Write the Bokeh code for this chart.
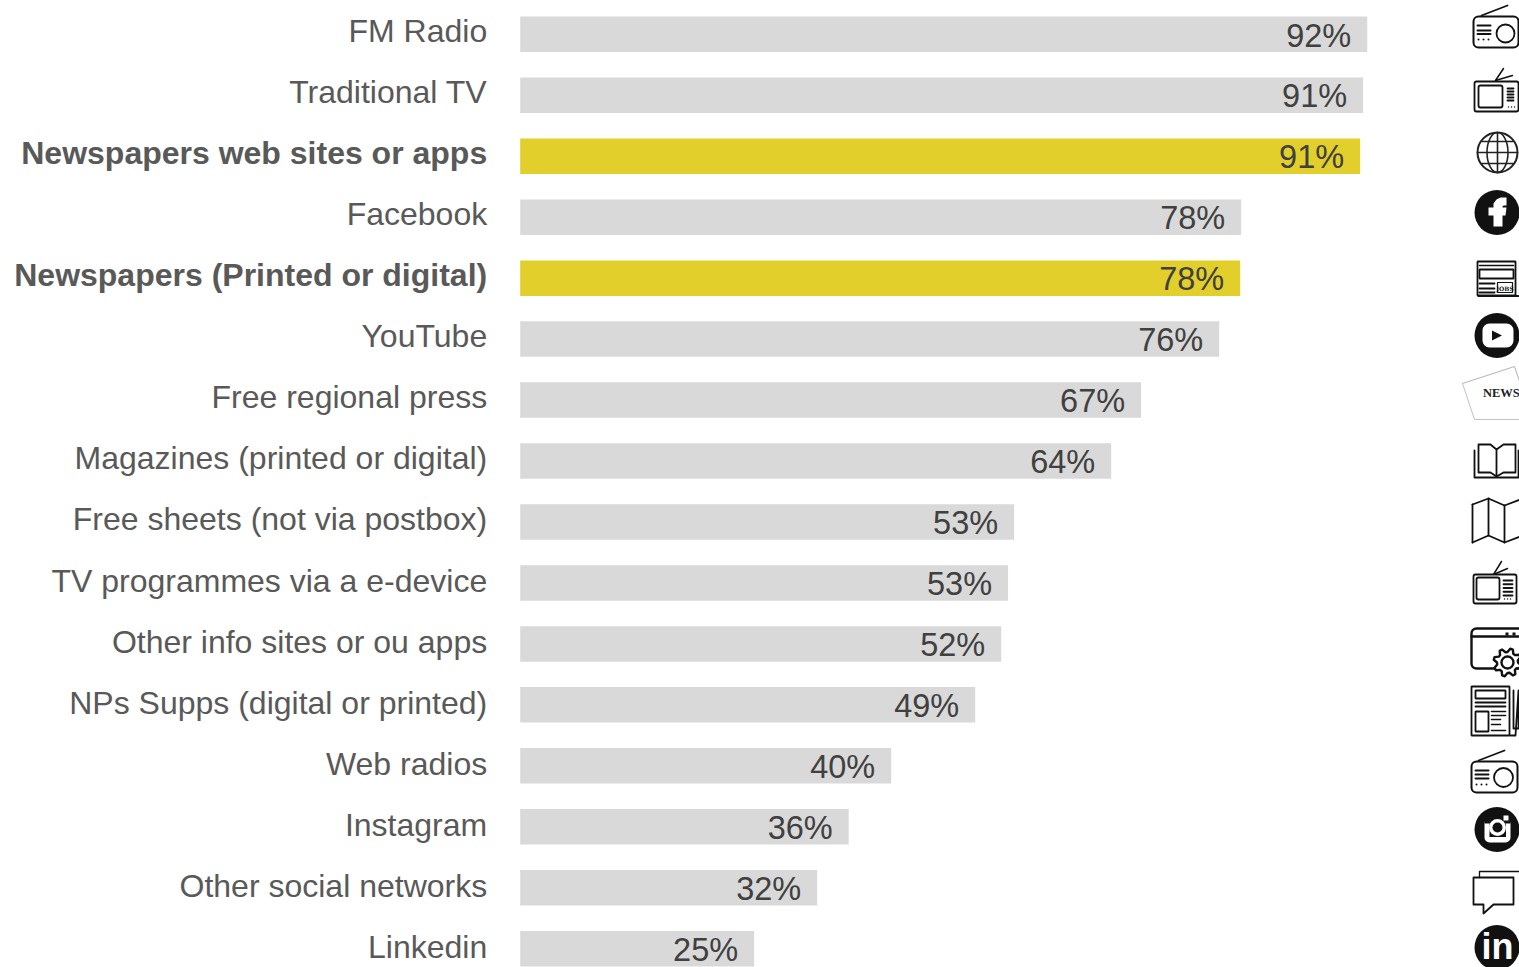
import numpy as np
from bokeh.embed import file_html
from bokeh.models import Range1d
from bokeh.plotting import figure
from bokeh.resources import INLINE
from bokeh.core.properties import value

# Share of respondents per media (percent)
categories = [
    "FM Radio", "Traditional TV", "Newspapers web sites or apps", "Facebook",
    "Newspapers (Printed or digital)", "YouTube", "Free regional press",
    "Magazines (printed or digital)", "Free sheets (not via postbox)",
    "TV programmes via a e-device", "Other info sites or ou apps",
    "NPs Supps (digital or printed)", "Web radios", "Instagram",
    "Other social networks", "Linkedin",
]
shares = [91.67, 91.23, 90.9, 78.03, 77.92, 75.65, 67.2, 63.96,
          53.46, 52.8, 52.06, 49.24, 40.15, 35.55, 32.14, 25.32]
highlighted = ["Newspapers web sites or apps", "Newspapers (Printed or digital)"]

GREY, YELLOW, LABEL, NUMBER, INK = "#D9D9D9", "#E2CF2B", "#595959", "#404040", "#111111"
W, H = 1519, 967
ZERO_PX, PX_PER_PCT, FIRST_ROW_PX, ROW_PX, BAR_PX = 519.7, 9.24, 33.8, 60.96, 35.5

p = figure(
    width=W, height=H, output_backend="svg", toolbar_location=None,
    x_range=Range1d(-ZERO_PX / PX_PER_PCT, (W - ZERO_PX) / PX_PER_PCT),
    y_range=Range1d((H - FIRST_ROW_PX) / ROW_PX, -FIRST_ROW_PX / ROW_PX),
    min_border=0, x_axis_location=None, y_axis_location=None,
    outline_line_color=None, background_fill_color="white",
)
p.grid.visible = False
p.extra_x_ranges["px"] = Range1d(0, W)
p.extra_y_ranges["px"] = Range1d(H, 0)

rows = np.arange(len(categories))
colors = [YELLOW if c in highlighted else GREY for c in categories]
p.hbar(y=rows, left=0, right=shares, height=BAR_PX / ROW_PX, color=colors, line_color=None)

# Category names sit left of the zero line, the two newspaper rows in bold;
# their spacing runs a touch wider than the bars'
styles = ["bold" if c in highlighted else "normal" for c in categories]
p.text(x=[0] * len(rows), y=rows, text=categories, x_offset=-33, y_offset=-3.6 + 0.133 * rows,
       text_align="right", text_baseline="middle", text_color=LABEL,
       text_font=value("Liberation Sans"), text_font_size="32px", text_font_style=styles)

# Percentages inside the bar ends
p.text(x=shares, y=rows, text=[f"{round(s)}%" for s in shares], x_offset=-16, y_offset=1.2,
       text_align="right", text_baseline="middle", text_color=NUMBER,
       text_font=value("Liberation Sans"), text_font_size="32.5px")

# Pictograms in the right margin, drawn in page pixels
PX = dict(x_range_name="px", y_range_name="px")


def stroke(xs, ys, w=1.8, color=INK):
    p.line(xs, ys, line_width=w, line_color=color, line_join="round", line_cap="round", **PX)


def box(l, t, r, b, w=1.8, radius=0, fill="white", color=INK):
    p.quad(left=l, right=r, top=t, bottom=b, fill_color=fill, line_color=color,
           line_width=w, border_radius=radius, **PX)


def disc(x, y, r, fill=INK, color=None, w=1.8):
    p.circle(x=x, y=y, radius=r, fill_color=fill, line_color=color, line_width=w, **PX)


def dots(xs, y, r=1.0):
    for x in xs:
        disc(x, y, r)


def label(x, y, s, size, color="white", font="Liberation Sans", style="bold", align="center"):
    p.text(x=[x], y=[y], text=[s], text_align=align, text_baseline="middle", text_color=color,
           text_font=value(font), text_font_size=size, text_font_style=style, **PX)


def radio(l, t, r, b, cx, cy, cr, lines, dot_y, antenna):
    stroke(antenna[0], antenna[1], 1.8)
    box(l, t, r, b, 2, 5)
    disc(cx, cy, cr, fill="white", color=INK, w=1.8)
    for y in lines:
        stroke([l + 4, l + 17], [y, y], 2)
    dots([l + 5, l + 10, l + 15], dot_y)


def tv(l, t, r, b, sl, st, sr, sb, gl, gr, gt, gb, tip1, tip2, mast):
    stroke([mast[0], tip1[0]], [mast[1], tip1[1]], 1.5)
    stroke([mast[0], tip2[0]], [mast[1], tip2[1]], 1.5)
    box(l, t, r, b, 1.8, 2)
    box(sl, st, sr, sb, 1.8, 2)
    for y in np.linspace(gt, gb, 5):
        stroke([gl, gr], [y, y], 1.8)
    dots([gl + 1, gl + 4, gl + 7], b - 4.5, 0.7)


radio(1473, 16, 1518, 47, 1505, 33, 9, [25, 30, 33.5], 39, ([1481, 1507], [15, 5]))
tv(1474, 81, 1518, 111, 1478, 85, 1502, 107, 1507, 1513, 88, 100, (1503, 68), (1512, 75), (1495, 80))

# Globe
disc(1497, 152, 20, fill="white", color="#222222", w=2)
p.ellipse(x=1497, y=152, width=21, height=40, fill_color=None, line_color="#222222", line_width=1.6, **PX)
stroke([1497, 1497], [132, 172], 1.6, "#222222")
for y, half in [(141, 15.5), (152, 20), (163, 15.5)]:
    stroke([1497 - half, 1497 + half], [y, y], 1.6, "#222222")

# Facebook badge
disc(1496.5, 212, 22.5)
p.patch([1493, 1493, 1488, 1488, 1493, 1493, 1496, 1500, 1506, 1506, 1503, 1502, 1502, 1506, 1505, 1502, 1502],
        [226, 215, 215, 207, 207, 203, 199, 197, 197, 205, 205, 206, 207, 207, 215, 215, 226],
        fill_color="white", line_color=None, **PX)

# Job-ads newspaper
box(1477, 261, 1515, 295, 1.8)
stroke([1478, 1518], [295.5, 295.5], 1.8)
stroke([1479, 1513], [265, 265], 1.5)
box(1479, 269, 1513, 278, 1.8)
for y in [283, 288, 292]:
    stroke([1479, 1494], [y, y], 1.8)
box(1497, 282, 1512, 292, 1.2)
label(1504.5, 287.5, "JOBS", "6px", color=INK, font="DejaVu Serif")

# YouTube badge
disc(1496.5, 335, 22.5)
box(1482, 323, 1513, 347, 0, 7, color=None)
p.patch([1491.5, 1491.5, 1501.5], [330, 340, 335], fill_color=INK, line_color=None, **PX)

# Torn "NEWS" sheet
stroke([1462, 1514, 1532], [383, 366, 419], 0.9, "#AAAAAA")
stroke([1462, 1474, 1532], [383, 419, 419], 0.9, "#BBBBBB")
label(1482.5, 392.5, "NEWS", "12.5px", color="#222222", font="Liberation Serif", align="left")

# Open book
stroke([1474, 1474, 1518, 1518], [450, 477, 477, 450], 1.8)
stroke([1496, 1490, 1478, 1478, 1490, 1496, 1503, 1515, 1515, 1503, 1496, 1496],
       [449, 444, 444, 472, 472, 476, 472, 472, 444, 444, 449, 476], 1.8)

# Folded map
stroke([1472, 1488, 1504, 1520], [504, 498, 505, 499], 1.8)
stroke([1472, 1488, 1504, 1520], [542, 535, 542, 536], 1.8)
for x, top, bottom in [(1472, 504, 542), (1488, 498, 535), (1504, 505, 542)]:
    stroke([x, x], [top, bottom], 1.8)

tv(1473, 574, 1516, 603, 1476, 577, 1499, 599, 1503, 1512, 580, 595, (1501, 561), (1507, 568), (1493, 574))

# Settings window with a cog
box(1471, 628, 1530, 668, 2.4, 5)
stroke([1471, 1525], [636, 636], 2.4)
box(1505, 632, 1508, 635, 0, fill=INK, color=None)
box(1512, 632, 1515, 635, 0, fill=INK, color=None)
teeth = 8
angles = np.linspace(0, 2 * np.pi, teeth * 4 + 1)
radii = np.array(np.tile([14, 14, 10.5, 10.5], teeth).tolist() + [14])
offset = np.pi / teeth / 2
p.patch(1507 + radii * np.cos(angles + offset), 662 + radii * np.sin(angles + offset),
        fill_color="white", line_color=INK, line_width=2.4, line_join="round", **PX)
disc(1507, 662, 6, fill="white", color=INK, w=2.4)

# Broadsheet with a side fold
stroke([1513, 1513, 1518, 1518, 1515, 1510], [690, 728, 728, 690, 735, 735], 1.8)
box(1471, 686, 1509, 735, 1.8)
box(1475, 690, 1505, 698, 1.8)
stroke([1475, 1505], [702, 702], 1.8)
stroke([1475, 1505], [706, 706], 1.8)
box(1475, 711, 1488, 731, 1.8)
for y, right in [(711, 1505), (715, 1505), (719, 1500), (724, 1500), (730, 1505)]:
    stroke([1491, right], [y, y], 1.6)

radio(1471, 761, 1517, 792, 1503, 777, 9.5, [770, 774, 778], 784, ([1478, 1504], [760, 750]))

# Instagram badge
disc(1496.5, 829, 22.5)
box(1484, 818, 1510, 842, 0, 5, fill="white", color=None)
box(1484, 812, 1510, 823, 0, fill=INK, color=None)
box(1489, 823, 1505.5, 836.5, 0, fill=INK, color=None)
box(1503, 815, 1508, 820, 0, fill="white", color=None)
disc(1497, 827, 8.5, fill="white")
disc(1497, 827, 5)

# Overlapping speech bubbles
stroke([1479, 1479, 1522], [877, 871, 871], 1.3)
stroke([1473, 1513, 1513, 1493, 1483, 1483, 1473, 1473], [877, 877, 904, 904, 913, 904, 904, 877], 1.8)

# LinkedIn badge
disc(1496.5, 947, 22.5)
label(1497, 946, "in", "36px")

open("out.html", "w").write(file_html(p, INLINE))
